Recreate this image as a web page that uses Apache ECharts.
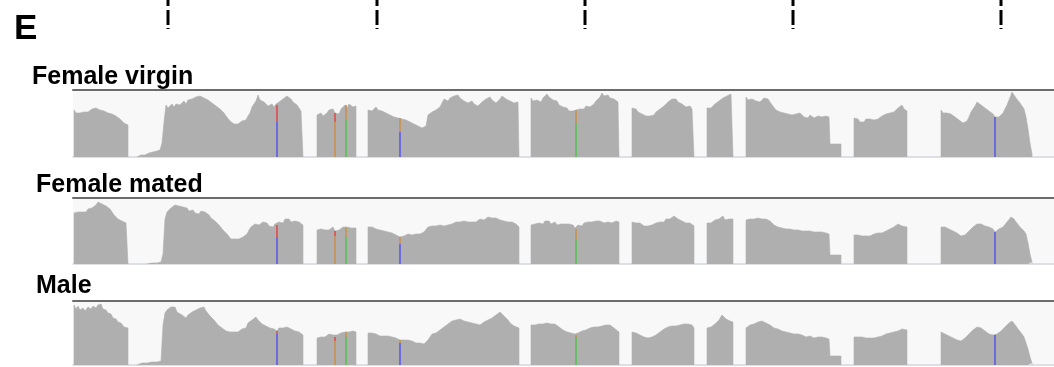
<!DOCTYPE html>
<html><head><meta charset="utf-8">
<script src="https://cdn.jsdelivr.net/npm/echarts@6/dist/echarts.min.js"></script>
<style>html,body{margin:0;padding:0;background:#fff}#c{width:1054px;height:367px}</style>
</head><body><div id="c"></div>
<script>
// ---------------- data ----------------
const panelLetter = 'E';
const trackNames = ['Female virgin', 'Female mated', 'Male'];
const rulerTicks = [168, 377, 585, 793, 1001];
const trackMax = [67, 66, 64];

// coverage segments: [position, depth]
const virginCoverage = [
  [[74,47],[76,44],[78,46],[80,44],[82,46],[84,45],[86,47],[88,45],[90,46],[92,48],[94,46],[96,49],[98,50],[100,47],[102,48],[104,46],[106,47],[108,44],[110,46],[112,43],[114,44],[116,41],[118,41],[120,38],[122,37],[124,34],[126,33],[128,32]],
  [[137,1],[141,2],[145,2],[149,4],[153,5],[157,6],[160,7],[162,14],[164,35],[166,52],[168,49],[170,51],[172,53],[174,50],[176,53],[178,55],[180,52],[182,54],[184,56],[186,53],[188,57],[190,55],[192,58],[194,56],[196,60],[198,58],[200,61],[202,63],[204,59],[206,61],[208,57],[210,58],[212,54],[214,55],[216,51],[218,50],[220,48],[222,46],[224,44],[226,41],[228,39],[230,36],[232,35],[234,33],[236,34],[238,33],[240,35],[242,36],[244,34],[246,37],[248,41],[250,44],[252,50],[254,53],[256,56],[258,62],[260,57],[262,59],[264,55],[266,56],[268,51],[270,52],[272,53],[274,50],[276,53],[277,52],[279,55],[281,54],[283,58],[285,57],[287,61],[289,59],[291,58],[293,55],[295,56],[297,52],[299,50],[301,46],[303,44]],
  [[317,42],[319,40],[321,44],[323,41],[325,42],[327,44],[329,47],[331,45],[333,48],[335,44],[337,45],[339,43],[341,48],[343,50],[345,52],[347,49],[349,53],[351,52],[353,50],[356,51]],
  [[368,47],[370,45],[372,46],[374,48],[376,50],[378,47],[380,49],[382,46],[384,47],[386,44],[388,45],[390,42],[392,43],[394,40],[396,41],[398,39],[400,39],[402,38],[404,39],[406,37],[408,37],[410,35],[412,35],[414,33],[416,33],[418,31],[420,31],[422,29],[424,28],[426,31],[428,42],[430,43],[432,45],[434,44],[436,47],[438,46],[440,50],[442,52],[444,58],[446,60],[448,56],[450,59],[452,57],[454,61],[456,60],[458,62],[460,59],[462,60],[464,56],[466,57],[468,54],[470,53],[472,56],[474,53],[476,54],[478,51],[480,53],[482,55],[484,54],[486,58],[488,57],[490,60],[492,57],[494,56],[496,54],[498,56],[500,58],[502,61],[504,59],[506,58],[508,59],[510,56],[512,57],[514,54],[516,53],[518,55],[519,54]],
  [[531,59],[533,56],[535,58],[537,57],[539,59],[541,55],[543,59],[545,60],[547,63],[549,60],[551,58],[553,57],[555,55],[557,56],[559,52],[561,53],[563,50],[565,48],[567,49],[569,46],[571,48],[573,46],[575,48],[576,47],[578,49],[580,48],[582,50],[584,48],[586,51],[588,52],[590,50],[592,52],[594,53],[596,56],[598,55],[600,60],[602,64],[604,61],[606,63],[608,62],[610,59],[612,61],[614,58],[616,56],[618,55],[619,54]],
  [[632,49],[634,47],[636,48],[638,45],[640,46],[642,43],[644,44],[646,41],[648,40],[650,41],[652,43],[654,42],[656,45],[658,46],[660,48],[662,50],[664,51],[666,53],[668,55],[670,56],[672,58],[674,57],[676,58],[678,55],[680,56],[682,53],[684,54],[686,50],[688,52],[690,51],[692,48],[694,49]],
  [[707,49],[709,50],[711,49],[713,51],[715,53],[717,52],[719,56],[721,57],[723,59],[725,58],[727,61],[729,59],[731,63],[733,64]],
  [[746,60],[748,57],[750,59],[752,58],[754,59],[756,56],[758,58],[760,55],[762,57],[764,59],[766,57],[768,58],[770,55],[772,52],[774,50],[776,47],[778,48],[780,45],[782,46],[784,44],[786,45],[788,43],[790,45],[792,42],[794,44],[796,43],[798,41],[800,44],[802,42],[804,40],[806,41],[808,39],[810,42],[812,41],[814,39],[816,40],[818,41],[820,42],[822,40],[824,42],[826,41],[828,42],[829,40],[830,13],[835,13],[841,13]],
  [[854,39],[856,37],[858,38],[860,35],[862,36],[864,35],[866,38],[868,37],[870,38],[872,39],[874,37],[876,39],[878,38],[880,40],[882,41],[884,40],[886,43],[888,42],[890,44],[892,46],[894,45],[896,47],[898,49],[900,50],[902,52],[904,48],[906,47],[907,46]],
  [[941,47],[943,44],[945,46],[947,44],[949,45],[951,43],[953,43],[955,40],[957,39],[959,37],[961,36],[963,34],[965,32],[967,36],[969,40],[971,45],[973,48],[975,51],[977,55],[979,54],[981,52],[983,50],[985,49],[987,47],[989,46],[991,45],[993,43],[995,40],[997,41],[999,40],[1001,42],[1003,44],[1005,48],[1007,52],[1009,57],[1011,62],[1012,65],[1014,63],[1016,59],[1018,57],[1020,54],[1022,52],[1024,48],[1026,40],[1028,28],[1030,14],[1032,3]]
];

const matedCoverage = [
  [[74,51],[76,53],[78,52],[80,54],[82,52],[84,53],[86,52],[88,55],[90,54],[92,56],[94,55],[96,59],[98,62],[100,63],[102,60],[104,61],[106,58],[108,57],[110,55],[112,53],[114,49],[116,47],[118,45],[120,44],[122,43],[124,42],[126,41],[128,41]],
  [[147,1],[152,1],[157,1],[161,2],[163,10],[165,45],[167,52],[169,54],[171,56],[173,58],[175,59],[177,57],[179,58],[181,56],[183,57],[185,55],[187,56],[189,53],[191,52],[193,54],[195,51],[197,52],[199,50],[201,53],[203,54],[205,52],[207,50],[209,49],[211,46],[213,45],[215,43],[217,41],[219,39],[221,37],[223,34],[225,32],[227,30],[229,28],[231,25],[233,24],[235,25],[237,24],[239,25],[241,24],[243,27],[245,26],[247,30],[249,34],[251,37],[253,39],[255,40],[257,42],[259,39],[261,41],[263,42],[265,40],[267,41],[269,38],[271,39],[273,37],[275,40],[277,39],[279,42],[281,43],[283,41],[285,45],[287,44],[289,45],[291,42],[293,44],[295,43],[297,41],[299,42],[301,40],[303,39]],
  [[317,34],[319,33],[321,35],[323,33],[325,34],[327,36],[329,34],[331,35],[333,37],[335,33],[337,35],[339,34],[341,34],[343,37],[345,36],[347,37],[349,38],[351,36],[353,35],[356,36]],
  [[368,37],[370,36],[372,37],[374,36],[376,35],[378,36],[380,34],[382,35],[384,33],[386,34],[388,32],[390,32],[392,31],[394,31],[396,29],[398,28],[400,27],[402,29],[404,28],[406,30],[408,30],[410,31],[412,29],[414,31],[416,30],[418,31],[420,30],[422,31],[424,32],[426,34],[428,37],[430,36],[432,38],[434,37],[436,38],[438,37],[440,39],[442,40],[444,38],[446,40],[448,39],[450,41],[452,40],[454,41],[456,42],[458,40],[460,42],[462,41],[464,43],[466,41],[468,42],[470,43],[472,42],[474,44],[476,42],[478,43],[480,45],[482,43],[484,44],[486,45],[488,47],[490,45],[492,46],[494,44],[496,46],[498,45],[500,44],[502,45],[504,43],[506,44],[508,42],[510,43],[512,42],[514,41],[516,40],[518,38],[519,37]],
  [[531,39],[533,41],[535,40],[537,42],[539,41],[541,42],[543,40],[545,43],[547,42],[549,43],[551,40],[553,41],[555,42],[557,39],[559,41],[561,40],[563,38],[565,40],[567,39],[569,40],[571,38],[573,39],[575,36],[576,35],[578,39],[580,40],[582,38],[584,41],[586,40],[588,42],[590,41],[592,42],[594,40],[596,43],[598,41],[600,43],[602,42],[604,41],[606,43],[608,42],[610,43],[612,41],[614,42],[616,43],[619,42]],
  [[632,42],[634,40],[636,41],[638,40],[640,41],[642,39],[644,38],[646,37],[648,38],[650,37],[652,39],[654,40],[656,41],[658,40],[660,42],[662,43],[664,42],[666,45],[668,46],[670,45],[672,47],[674,48],[676,46],[678,45],[680,44],[682,43],[684,44],[686,41],[688,42],[690,41],[692,40],[694,38]],
  [[707,41],[709,42],[711,41],[713,42],[715,44],[717,43],[719,45],[721,46],[723,48],[725,44],[727,46],[729,45],[731,47],[733,45]],
  [[746,44],[748,43],[750,45],[752,44],[754,45],[756,44],[758,46],[760,47],[762,45],[764,47],[766,45],[768,44],[770,43],[772,41],[774,39],[776,38],[778,37],[780,35],[782,36],[784,34],[786,35],[788,34],[790,35],[792,33],[794,34],[796,33],[798,34],[800,32],[802,33],[804,32],[806,33],[808,32],[810,33],[812,31],[814,32],[816,31],[818,32],[820,31],[822,32],[824,30],[826,31],[828,31],[829,30],[830,9],[835,9],[841,9]],
  [[854,29],[856,28],[858,29],[860,29],[862,28],[864,29],[866,28],[868,29],[870,28],[872,29],[874,30],[876,29],[878,31],[880,30],[882,31],[884,32],[886,33],[888,33],[890,35],[892,36],[894,37],[896,38],[898,40],[900,39],[902,38],[904,37],[907,37]],
  [[941,37],[943,36],[945,37],[947,36],[949,35],[951,34],[953,33],[955,32],[957,31],[959,30],[961,28],[963,28],[965,29],[967,31],[969,33],[971,35],[973,37],[975,39],[977,40],[979,41],[981,40],[983,39],[985,38],[987,38],[989,37],[991,36],[993,35],[995,32],[997,34],[999,35],[1001,36],[1003,37],[1005,39],[1007,42],[1009,44],[1011,47],[1012,47],[1014,45],[1016,42],[1018,40],[1020,37],[1022,35],[1024,33],[1026,30],[1028,21],[1030,10],[1032,2]]
];

const maleCoverage = [
  [[74,60],[76,56],[78,59],[80,55],[83,57],[85,54],[88,58],[91,56],[93,59],[96,57],[98,60],[101,61],[103,56],[106,55],[108,52],[111,51],[113,47],[116,46],[118,43],[121,42],[124,38],[126,38],[128,37]],
  [[137,1],[142,2],[147,2],[152,3],[157,3],[161,4],[163,40],[165,52],[167,55],[169,53],[171,58],[173,56],[175,58],[177,53],[179,54],[182,50],[184,51],[186,47],[188,50],[190,49],[192,53],[194,52],[196,55],[198,54],[200,57],[202,55],[204,58],[206,54],[208,53],[210,49],[212,50],[214,45],[216,44],[218,40],[220,41],[222,37],[224,38],[226,34],[228,35],[230,33],[232,31],[234,33],[236,32],[238,33],[240,31],[242,36],[244,38],[246,37],[248,42],[250,43],[252,45],[254,44],[256,48],[258,45],[260,44],[262,41],[264,42],[266,39],[268,40],[270,37],[272,38],[274,36],[277,34],[279,37],[281,35],[283,37],[285,35],[287,38],[289,37],[291,36],[293,37],[295,34],[297,35],[299,33],[301,31],[303,30]],
  [[317,27],[319,29],[321,28],[323,30],[325,28],[327,30],[329,31],[331,29],[333,30],[335,28],[337,30],[339,31],[341,32],[343,30],[345,33],[347,32],[349,33],[351,32],[353,34],[356,33]],
  [[368,32],[370,31],[372,32],[374,30],[376,31],[378,30],[380,29],[382,30],[384,29],[386,28],[388,29],[390,27],[392,28],[394,26],[396,27],[398,26],[400,25],[402,26],[404,25],[406,24],[408,25],[410,23],[412,24],[414,23],[416,22],[418,23],[420,22],[422,21],[424,21],[426,23],[428,25],[430,28],[432,31],[434,33],[436,32],[438,34],[440,35],[442,36],[444,38],[446,39],[448,41],[450,42],[452,44],[454,43],[456,45],[458,44],[460,46],[462,44],[464,44],[466,42],[468,43],[470,41],[472,42],[474,40],[476,41],[478,39],[480,40],[482,41],[484,43],[486,43],[488,45],[490,46],[492,47],[494,49],[496,50],[498,51],[500,53],[502,51],[504,49],[506,47],[508,45],[510,42],[512,41],[514,39],[516,38],[519,37]],
  [[531,40],[533,41],[535,40],[537,42],[539,41],[541,42],[543,41],[545,43],[547,42],[549,43],[551,41],[553,43],[555,41],[557,39],[559,38],[561,36],[563,35],[565,34],[567,33],[569,33],[571,32],[573,31],[575,31],[576,30],[578,32],[580,33],[582,34],[584,35],[586,35],[588,36],[590,37],[592,36],[594,38],[596,37],[598,38],[600,37],[602,39],[604,39],[606,40],[608,41],[610,40],[612,38],[614,37],[616,35],[619,33]],
  [[632,33],[634,32],[636,32],[638,31],[640,30],[642,29],[644,28],[646,28],[648,27],[650,27],[652,28],[654,29],[656,30],[658,32],[660,33],[662,34],[664,36],[666,37],[668,38],[670,37],[672,39],[674,40],[676,39],[678,41],[680,40],[682,42],[684,41],[686,42],[688,41],[690,43],[692,40],[694,37]],
  [[707,37],[709,38],[711,38],[713,40],[715,41],[717,43],[719,45],[721,47],[722,50],[724,49],[726,46],[728,45],[730,44],[733,43]],
  [[746,37],[748,39],[750,40],[752,39],[754,41],[756,42],[758,43],[760,42],[762,44],[764,43],[766,42],[768,41],[770,40],[772,38],[774,37],[776,36],[778,36],[780,35],[782,34],[784,34],[786,33],[788,31],[790,32],[792,30],[794,31],[796,30],[798,31],[800,29],[802,30],[804,30],[806,28],[808,29],[810,29],[812,28],[814,27],[816,28],[818,28],[820,27],[822,28],[824,28],[826,27],[828,27],[829,26],[830,9],[835,9],[841,9]],
  [[854,28],[856,27],[858,28],[860,27],[862,28],[864,28],[866,27],[868,28],[870,27],[872,28],[874,27],[876,28],[878,28],[880,29],[882,29],[884,30],[886,31],[888,31],[890,32],[892,32],[894,33],[896,34],[898,34],[900,35],[902,36],[904,35],[907,35]],
  [[941,33],[943,32],[945,31],[947,30],[949,29],[951,28],[953,27],[955,26],[957,25],[959,23],[961,24],[963,25],[965,27],[967,29],[969,31],[971,33],[973,35],[975,36],[977,38],[979,38],[981,37],[983,35],[985,34],[987,33],[989,31],[991,31],[993,30],[995,30],[997,31],[999,32],[1001,34],[1003,35],[1005,38],[1007,40],[1009,42],[1011,44],[1012,44],[1014,42],[1016,39],[1018,36],[1020,34],[1022,31],[1024,28],[1026,22],[1028,16],[1030,8],[1032,2]]
];

// variant columns: [position, lower-allele depth, total depth, upper base, lower base]
const virginVariants = [[277,35,52,'T','C'],[335,35,44,'T','G'],[346,37,52,'G','A'],[400,25,39,'G','C'],[576,34,47,'G','A'],[995,40,40,'C','C']];
const matedVariants  = [[277,27,39,'T','C'],[335,28,33,'T','G'],[346,26,36,'G','A'],[400,20,27,'G','C'],[576,24,35,'G','A'],[995,32,32,'C','C']];
const maleVariants   = [[277,31,34,'T','C'],[335,24,28,'T','G'],[346,28,33,'G','A'],[400,22,25,'G','C'],[576,27,30,'G','A'],[995,30,30,'C','C']];

// ---------------- chart ----------------
const baseColor = {A:'#55c255', C:'#5c5ce4', G:'#c9914e', T:'#e04b4b'};
const coverages = [virginCoverage, matedCoverage, maleCoverage];
const variants = [virginVariants, matedVariants, maleVariants];
const gridTops = [90, 198, 301];
const gridHeights = [67, 66, 64];

function toLineData(segs) {
  const out = [];
  segs.forEach((s, i) => {
    out.push([s[0][0], 0]);
    s.forEach(p => out.push(p));
    out.push([s[s.length - 1][0], 0]);
    if (i < segs.length - 1) out.push([s[s.length - 1][0] + 1, '-']);
  });
  return out;
}

const grids = [], xAxes = [], yAxes = [], series = [];
for (let t = 0; t < 3; t++) {
  grids.push({left: 73, right: 0, top: gridTops[t], height: gridHeights[t], show: true, backgroundColor: '#f8f8f8', borderWidth: 0});
  const common = {type: 'value', min: 73, max: 1054, gridIndex: t, axisTick: {show: false}, axisLabel: {show: false}, splitLine: {show: false}};
  xAxes.push(Object.assign({}, common, {position: 'bottom', offset: 2, axisLine: {show: true, lineStyle: {color: '#d5d5e0', width: 1.5}}}));
  xAxes.push(Object.assign({}, common, {position: 'top', axisLine: {show: true, lineStyle: {color: '#6c6c6c', width: 2}}}));
  yAxes.push({type: 'value', gridIndex: t, min: 0, max: trackMax[t], show: false});
  series.push({
    type: 'line', xAxisIndex: 2 * t, yAxisIndex: t, data: toLineData(coverages[t]),
    showSymbol: false, symbol: 'none', connectNulls: false, silent: true, z: 2,
    lineStyle: {width: 0.6, color: '#afafaf'}, areaStyle: {color: '#afafaf', opacity: 1}
  });
  // allele columns, grouped by base colour
  Object.keys(baseColor).forEach(b => {
    const d = [];
    variants[t].forEach(v => {
      if (v[4] === b) { d.push([v[0], 0], [v[0], v[1]], [v[0], '-']); }
      if (v[3] === b && v[2] > v[1]) { d.push([v[0], v[1]], [v[0], v[2]], [v[0], '-']); }
    });
    if (d.length) series.push({
      type: 'line', xAxisIndex: 2 * t, yAxisIndex: t, data: d, z: 5,
      showSymbol: false, symbol: 'none', connectNulls: false, silent: true,
      lineStyle: {width: 1.6, color: baseColor[b], cap: 'butt'}
    });
  });
}

const chart = echarts.init(document.getElementById('c'), null, {renderer: 'canvas'});
chart.setOption({
  animation: false,
  backgroundColor: '#ffffff',
  grid: grids, xAxis: xAxes, yAxis: yAxes, series: series
});

// labels and ruler ticks
const FONT = '"Liberation Sans", Arial, sans-serif';
const labelY = [77, 185, 286];
const labelX = [32, 36, 36];
const graphics = [
  {type: 'text', x: 14, y: 29, style: {text: panelLetter, fill: '#000', font: 'bold 35px ' + FONT, verticalAlign: 'middle'}}
];
trackNames.forEach((n, i) => graphics.push({type: 'text', x: labelX[i], y: labelY[i], style: {text: n, fill: '#000', font: 'bold 25px ' + FONT, verticalAlign: 'middle'}}));
rulerTicks.forEach(p => {
  const px = chart.convertToPixel({xAxisIndex: 0}, p);
  [[0, 6], [10, 25], [28, 29]].forEach(d => graphics.push({type: 'rect', shape: {x: px - 1.5, y: d[0], width: 3, height: d[1] - d[0]}, style: {fill: '#000'}}));
});
chart.setOption({graphic: graphics});
</script></body></html>
